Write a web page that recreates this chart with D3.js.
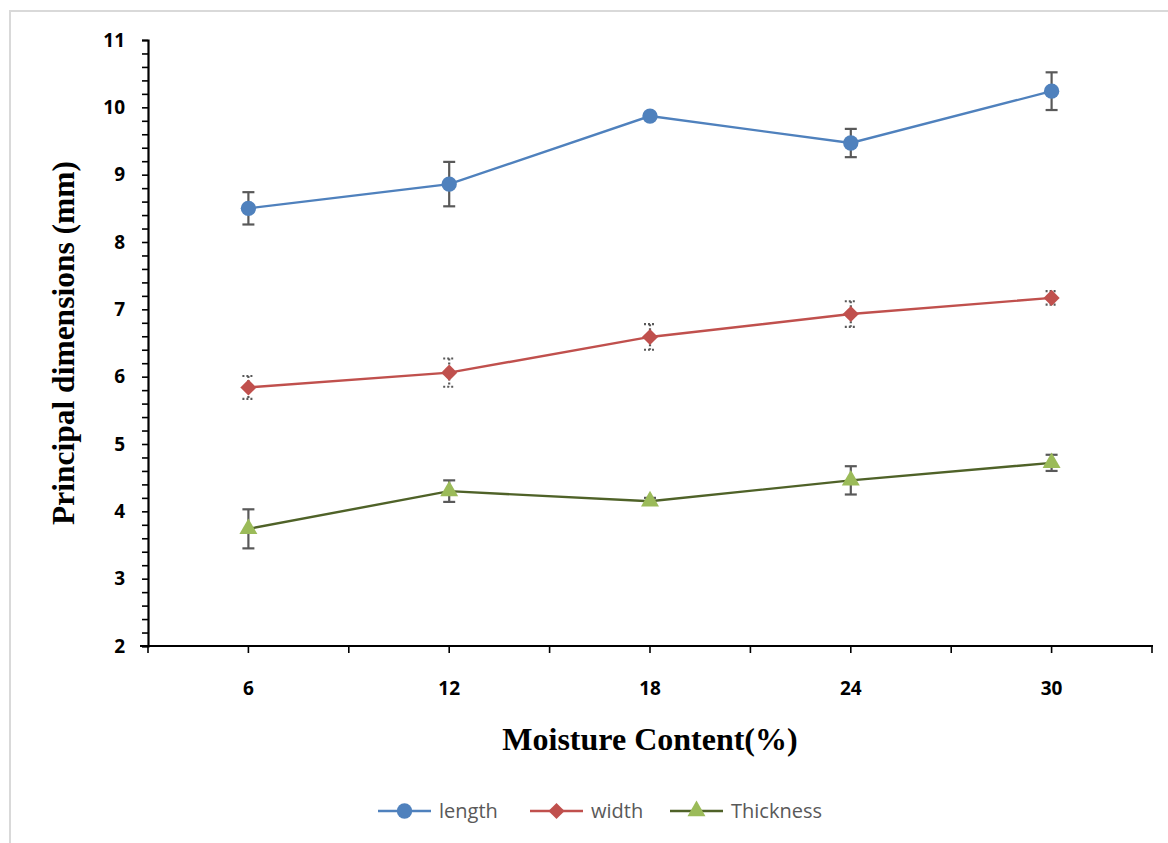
<!DOCTYPE html>
<html>
<head>
<meta charset="utf-8">
<script src="https://cdn.jsdelivr.net/npm/d3@7"></script>
<style>
  body { margin: 0; background: #fff; }
  svg { display: block; }
</style>
</head>
<body>
<div id="chart"></div>
<script>
(function() {
  // moisture content categories (%)
  var categories = ['6', '12', '18', '24', '30'];

  var lengthValues = [8.50, 8.86, 9.87, 9.47, 10.24];
  var lengthErrors = [0.24, 0.33, 0.03, 0.21, 0.28];

  var widthValues = [5.84, 6.06, 6.59, 6.93, 7.17];
  var widthErrors = [0.17, 0.21, 0.19, 0.19, 0.10];

  var thicknessValues = [3.74, 4.30, 4.15, 4.46, 4.72];
  var thicknessErrors = [0.29, 0.16, 0.05, 0.21, 0.12];

  var yTicks = [2, 3, 4, 5, 6, 7, 8, 9, 10, 11];

  var width = 1168, height = 843;
  var left = 148, right = 1152, top = 40, bottom = 646;

  var series = [
    { name: 'length', values: lengthValues, errors: lengthErrors, line: '#4f81bd', fill: '#4f81bd', symbol: d3.symbolCircle, size: 185, rotate: 0, dotted: false },
    { name: 'width', values: widthValues, errors: widthErrors, line: '#c0504d', fill: '#c0504d', symbol: d3.symbolSquare, size: 130, rotate: 45, dotted: true },
    { name: 'Thickness', values: thicknessValues, errors: thicknessErrors, line: '#4f6228', fill: '#9bbb59', symbol: d3.symbolTriangle, size: 140, rotate: 0, dotted: false }
  ];

  var svg = d3.select('#chart').append('svg')
    .attr('width', width).attr('height', height);

  // chart border (only left and top visible in the crop)
  svg.append('rect').attr('x', 10).attr('y', 11).attr('width', width).attr('height', height)
    .attr('fill', 'none').attr('stroke', '#d9d9d9').attr('stroke-width', 2);

  var x = d3.scaleBand().domain(categories).range([left, right]);
  var y = d3.scaleLinear().domain([2, 11]).range([bottom, top]);
  var cx = function(i) { return x(categories[i]) + x.bandwidth() / 2; };

  // y axis
  var yAxis = svg.append('g').attr('transform', 'translate(' + left + ',0)')
    .call(d3.axisLeft(y).tickValues(d3.range(2, 11.01, 0.2)).tickSize(6).tickFormat(''));
  yAxis.select('.domain').attr('stroke', '#000').attr('stroke-width', 2.2);
  yAxis.selectAll('.tick line').attr('stroke', '#000').attr('stroke-width', 1.6);

  svg.append('g').selectAll('text').data(yTicks).enter().append('text')
    .text(function(d) { return d; })
    .attr('x', 125).attr('y', function(d) { return y(d); })
    .attr('dy', '0.35em').attr('text-anchor', 'end')
    .attr('font-family', 'Open Sans, sans-serif').attr('font-weight', 'bold')
    .attr('font-size', '19px').attr('fill', '#000');

  // x axis: ticks at category centres and boundaries
  var xTickPos = d3.range(0, categories.length * 2 + 1).map(function(k) {
    return left + k * x.bandwidth() / 2;
  });
  var xAxis = svg.append('g');
  xAxis.append('line').attr('x1', left - 8).attr('x2', right + 1).attr('y1', bottom).attr('y2', bottom)
    .attr('stroke', '#000').attr('stroke-width', 2.2);
  xAxis.selectAll('line.tk').data(xTickPos).enter().append('line').attr('class', 'tk')
    .attr('x1', function(d) { return d; }).attr('x2', function(d) { return d; })
    .attr('y1', bottom).attr('y2', bottom + 7)
    .attr('stroke', '#000').attr('stroke-width', 1.6);
  xAxis.selectAll('text').data(categories).enter().append('text')
    .text(function(d) { return d; })
    .attr('x', function(d, i) { return cx(i); }).attr('y', 695)
    .attr('text-anchor', 'middle')
    .attr('font-family', 'Open Sans, sans-serif').attr('font-weight', 'bold')
    .attr('font-size', '19px').attr('fill', '#000');

  // axis titles
  svg.append('text').text('Moisture Content(%)')
    .attr('x', 650).attr('y', 750).attr('text-anchor', 'middle')
    .attr('font-family', 'Liberation Serif, Times New Roman, serif').attr('font-weight', 'bold')
    .attr('font-size', '32px').attr('fill', '#000');
  svg.append('text').text('Principal dimensions (mm)')
    .attr('transform', 'translate(74,343) rotate(-90)').attr('text-anchor', 'middle')
    .attr('font-family', 'Liberation Serif, Times New Roman, serif').attr('font-weight', 'bold')
    .attr('font-size', '31.5px').attr('fill', '#000');

  var line = d3.line().x(function(d, i) { return cx(i); }).y(function(d) { return y(d); });

  series.forEach(function(s) {
    var g = svg.append('g');
    g.append('path').datum(s.values).attr('d', line)
      .attr('fill', 'none').attr('stroke', s.line).attr('stroke-width', 2.4);

    // error bars
    var eb = g.selectAll('g.err').data(s.values).enter().append('g').attr('class', 'err');
    var dash = s.dotted ? '2,2' : null;
    eb.append('line')
      .attr('x1', function(d, i) { return cx(i); }).attr('x2', function(d, i) { return cx(i); })
      .attr('y1', function(d, i) { return y(d + s.errors[i]); })
      .attr('y2', function(d, i) { return y(d - s.errors[i]); })
      .attr('stroke', '#595959').attr('stroke-width', 2.2).attr('stroke-dasharray', dash);
    [1, -1].forEach(function(sign) {
      eb.append('line')
        .attr('x1', function(d, i) { return cx(i) - 6; }).attr('x2', function(d, i) { return cx(i) + 6; })
        .attr('y1', function(d, i) { return y(d + sign * s.errors[i]); })
        .attr('y2', function(d, i) { return y(d + sign * s.errors[i]); })
        .attr('stroke', '#595959').attr('stroke-width', 2.2).attr('stroke-dasharray', dash);
    });

    g.selectAll('path.mk').data(s.values).enter().append('path').attr('class', 'mk')
      .attr('d', d3.symbol().type(s.symbol).size(s.size))
      .attr('transform', function(d, i) {
        return 'translate(' + cx(i) + ',' + y(d) + ') rotate(' + s.rotate + ')';
      })
      .attr('fill', s.fill);
  });

  // legend
  var legendX = [378, 530, 670];
  var legend = svg.append('g').selectAll('g').data(series).enter().append('g')
    .attr('transform', function(d, i) { return 'translate(' + legendX[i] + ',811)'; });
  legend.append('line').attr('x1', 0).attr('x2', 53).attr('y1', 0).attr('y2', 0)
    .attr('stroke', function(d) { return d.line; }).attr('stroke-width', 2.4);
  legend.append('path')
    .attr('d', function(d) { return d3.symbol().type(d.symbol).size(d.size)(); })
    .attr('transform', function(d) { return 'translate(26.5,0) rotate(' + d.rotate + ')'; })
    .attr('fill', function(d) { return d.fill; });
  legend.append('text').text(function(d) { return d.name; })
    .attr('x', 61).attr('dy', '0.35em')
    .attr('font-family', 'Open Sans, sans-serif').attr('font-size', '20px').attr('fill', '#595959');
})();
</script>
</body>
</html>
